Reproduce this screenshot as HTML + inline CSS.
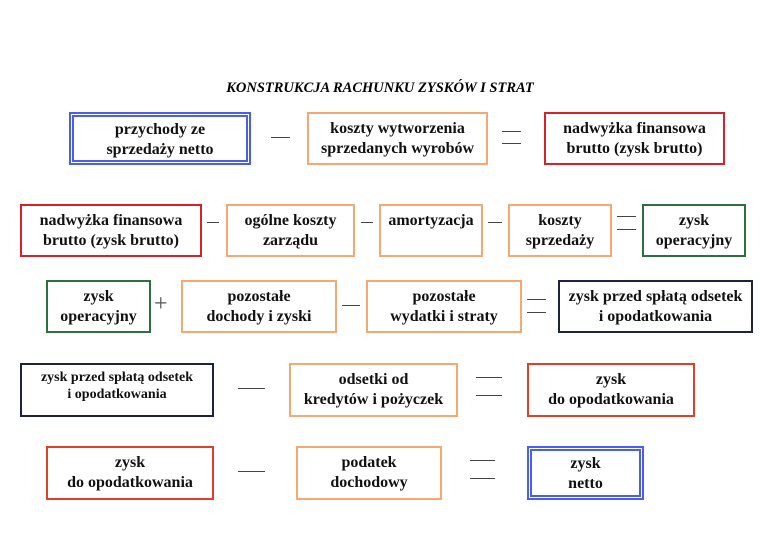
<!DOCTYPE html>
<html><head><meta charset="utf-8"><style>
body{margin:0;background:#fff;width:760px;height:537px;position:relative;overflow:hidden;font-family:"Liberation Serif",serif;}
.b{position:absolute;box-sizing:border-box;text-align:center;font-weight:bold;font-size:16px;line-height:20px;color:#111;padding-top:5px;white-space:nowrap;}
.o{border:2px solid #f5a774;}
.r{border:2px solid #d9202a;}
.g{border:2px solid #2f6e3f;}
.n{border:2px solid #1c2340;}
.bl{border:5px double #4a5ef0;}
.m{position:absolute;height:1px;background:#444;}
.t{position:absolute;left:0;width:760px;top:80px;text-align:center;font-weight:bold;font-style:italic;font-size:14.5px;}
</style></head><body>
<div class="t">KONSTRUKCJA RACHUNKU ZYSKÓW I STRAT</div>

<div class="b bl" style="left:69px;top:112px;width:182px;height:53px;padding-top:3px">przychody ze<br>sprzedaży netto</div>
<div class="m" style="left:271px;top:137px;width:19px"></div>
<div class="b o" style="left:307px;top:112px;width:181px;height:53px">koszty wytworzenia<br>sprzedanych wyrobów</div>
<div class="m" style="left:502px;top:131px;width:19px"></div><div class="m" style="left:502px;top:143px;width:19px"></div>
<div class="b r" style="left:544px;top:112px;width:181px;height:53px">nadwyżka finansowa<br>brutto (zysk brutto)</div>

<div class="b r" style="left:20px;top:204px;width:182px;height:53px">nadwyżka finansowa<br>brutto (zysk brutto)</div>
<div class="m" style="left:207px;top:222px;width:12px"></div>
<div class="b o" style="left:226px;top:204px;width:129px;height:53px">ogólne koszty<br>zarządu</div>
<div class="m" style="left:361px;top:222px;width:12px"></div>
<div class="b o" style="left:379px;top:204px;width:104px;height:53px">amortyzacja</div>
<div class="m" style="left:488px;top:222px;width:14px"></div>
<div class="b o" style="left:508px;top:204px;width:104px;height:53px">koszty<br>sprzedaży</div>
<div class="m" style="left:617px;top:216px;width:19px"></div><div class="m" style="left:617px;top:229px;width:19px"></div>
<div class="b g" style="left:642px;top:204px;width:104px;height:53px">zysk<br>operacyjny</div>

<div class="b g" style="left:46px;top:280px;width:105px;height:53px">zysk<br>operacyjny</div>
<div style="position:absolute;left:154px;top:291px;font-size:24px;color:#555">+</div>
<div class="b o" style="left:181px;top:280px;width:156px;height:53px">pozostałe<br>dochody i zyski</div>
<div class="m" style="left:342px;top:305px;width:18px"></div>
<div class="b o" style="left:366px;top:280px;width:156px;height:53px">pozostałe<br>wydatki i straty</div>
<div class="m" style="left:527px;top:299px;width:19px"></div><div class="m" style="left:527px;top:312px;width:19px"></div>
<div class="b n" style="left:558px;top:280px;width:195px;height:53px">zysk przed spłatą odsetek<br>i opodatkowania</div>

<div class="b n" style="left:20px;top:363px;width:194px;height:54px;font-size:14px;line-height:17px;padding-top:4px">zysk przed spłatą odsetek<br>i opodatkowania</div>
<div class="m" style="left:238px;top:388px;width:27px"></div>
<div class="b o" style="left:289px;top:363px;width:169px;height:54px">odsetki od<br>kredytów i pożyczek</div>
<div class="m" style="left:476px;top:377px;width:26px"></div><div class="m" style="left:476px;top:395px;width:26px"></div>
<div class="b r" style="left:527px;top:363px;width:168px;height:54px;border-color:#e0402a">zysk<br>do opodatkowania</div>

<div class="b r" style="left:46px;top:446px;width:168px;height:54px;border-color:#e0402a">zysk<br>do opodatkowania</div>
<div class="m" style="left:238px;top:471px;width:27px"></div>
<div class="b o" style="left:296px;top:446px;width:146px;height:54px">podatek<br>dochodowy</div>
<div class="m" style="left:470px;top:460px;width:25px"></div><div class="m" style="left:470px;top:478px;width:25px"></div>
<div class="b bl" style="left:527px;top:446px;width:117px;height:54px;padding-top:3px">zysk<br>netto</div>
</body></html>
